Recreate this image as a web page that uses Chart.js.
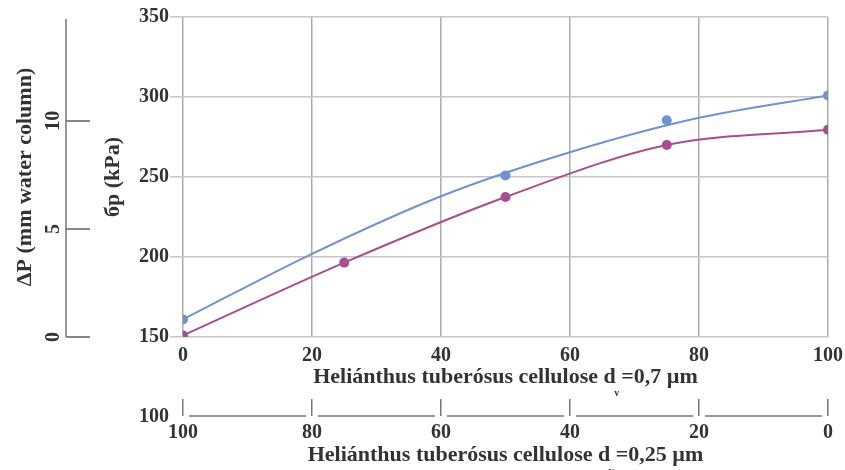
<!DOCTYPE html>
<html>
<head>
<meta charset="utf-8">
<script src="https://cdn.jsdelivr.net/npm/chart.js@4/dist/chart.umd.min.js"></script>
<style>
  body { margin: 0; background: #fff; }
</style>
</head>
<body>
<canvas id="js--chart" width="845" height="470"></canvas>
<script>
// measured strength, 0.7 µm cellulose share (%)
const shareA = [0, 50, 75, 100];
const strengthA = [161, 251, 285.5, 301];
// fitted trend for that series
const trendShare = [0, 20, 40, 60, 80, 100];
const trendA = [161, 202, 238, 265.5, 287, 301];
// second blend
const shareB = [0, 25, 50, 75, 100];
const strengthB = [151, 196.5, 237.5, 270, 279.5];

const blue = "#7092cf";
const purple = "#a74f8e";
const ink = "#333";

const titleFont = { family: "Liberation Serif", weight: "bold", size: 22, lineHeight: 1 };
const tickFont = { family: "Liberation Serif", weight: "bold", size: 20, lineHeight: 1 };

function points(xs, ys){
    return xs.map(function(v, i){ return { x: v, y: ys[i] }; });
}

// the end labels fit inside the layout padding already
function noSidePadding(scale){
    scale.paddingLeft = 0;
    scale.paddingRight = 0;
}

// axis line of the ΔP scale, the broken baseline of the lower x scale,
// the stray "100" of the σp scale and the small "v" under each title
const extras = {
    id: "extras",
    afterDraw(chart){
        const ctx = chart.ctx;
        const s = chart.scales;
        ctx.save();

        ctx.strokeStyle = "#777";
        ctx.lineWidth = 1.5;
        const lineX = s.y2.right - s.y2.options.grid.tickLength;
        ctx.beginPath();
        ctx.moveTo(lineX, s.y2.top + 2);
        ctx.lineTo(lineX, s.y2.bottom);
        ctx.stroke();

        const base = s.x2.top + s.x2.options.grid.tickLength;
        const px = s.x2.ticks.map(function(t){ return s.x2.getPixelForValue(t.value); })
            .sort(function(a, b){ return a - b; });
        ctx.beginPath();
        for (let i = 0; i < px.length - 1; i++){
            ctx.moveTo(px[i] + 6, base);
            ctx.lineTo(px[i + 1] - 6, base);
        }
        ctx.stroke();

        ctx.fillStyle = ink;
        ctx.font = "bold 20px 'Liberation Serif'";
        ctx.textAlign = "right";
        ctx.textBaseline = "middle";
        ctx.fillText("100", s.y.right - s.y.options.grid.tickLength - s.y.options.ticks.padding, s.y.getPixelForValue(100));

        [s.x, s.x2].forEach(function(sc){
            const t = sc.options.title;
            const full = t.text;
            const head = full.slice(0, full.indexOf(" ="));
            ctx.font = "bold 22px 'Liberation Serif'";
            const cx = (sc.left + sc.right) / 2;
            const start = cx - ctx.measureText(full).width / 2;
            const vx = start + ctx.measureText(head).width + 1;
            const ty = sc.bottom - t.padding.bottom - 11;
            ctx.font = "bold 10px 'Liberation Serif'";
            ctx.textAlign = "center";
            ctx.fillText("v", vx, ty + 16);
        });

        ctx.restore();
    }
};

const data = {
    datasets: [
        {
            data: points(shareA, strengthA),
            showLine: false,
            pointRadius: 5,
            pointBackgroundColor: blue,
            pointBorderWidth: 0
        },
        {
            data: points(trendShare, trendA),
            borderColor: blue,
            borderWidth: 2,
            pointRadius: 0,
            cubicInterpolationMode: "monotone"
        },
        {
            data: points(shareB, strengthB),
            borderColor: purple,
            borderWidth: 2,
            pointRadius: 5,
            pointBackgroundColor: purple,
            pointBorderWidth: 0,
            cubicInterpolationMode: "monotone"
        }
    ]
};

const config = {
    type: "line",
    data: data,
    options: {
        responsive: false,
        animation: false,
        events: [],
        layout: { autoPadding: false, padding: { top: 17, right: 17, left: 4, bottom: 0 } },
        plugins: { legend: { display: false }, tooltip: { enabled: false } },
        scales: {
            x: {
                type: "linear",
                position: "bottom",
                min: 0, max: 100,
                afterFit: noSidePadding,
                border: { display: false },
                grid: { color: "#acacac", lineWidth: 1.5, drawTicks: false },
                ticks: { stepSize: 20, padding: 9, color: ink, font: tickFont, maxRotation: 0 },
                title: {
                    display: true,
                    text: "Heliánthus tuberósus cellulose d =0,7 µm",
                    color: ink, font: titleFont,
                    padding: { top: -9, bottom: 11 }
                }
            },
            x2: {
                type: "linear",
                position: "bottom",
                reverse: true,
                min: 0, max: 100,
                afterFit: noSidePadding,
                border: { display: false },
                grid: { drawOnChartArea: false, tickLength: 17, color: "#777", lineWidth: 1.5 },
                ticks: { stepSize: 20, padding: 7, color: ink, font: tickFont, maxRotation: 0 },
                title: {
                    display: true,
                    text: "Heliánthus tuberósus cellulose d =0,25 µm",
                    color: ink, font: titleFont,
                    padding: { top: -6, bottom: 4 }
                }
            },
            y: {
                position: "left",
                min: 150, max: 350,
                weight: 0,
                border: { display: false },
                grid: { color: "#c6c6c6", lineWidth: 1.5, tickLength: 13 },
                ticks: { stepSize: 50, padding: 1, color: ink, font: tickFont },
                title: {
                    display: true,
                    text: "бp (kPa)",
                    color: ink, font: titleFont,
                    padding: { top: 12, bottom: 14 }
                }
            },
            y2: {
                position: "left",
                min: 0, max: 14.8,
                weight: 1,
                border: { display: false },
                grid: { drawOnChartArea: false, tickLength: 24, color: "#888", lineWidth: 2 },
                ticks: {
                    stepSize: 5, includeBounds: false, padding: 2,
                    minRotation: 90, maxRotation: 90, crossAlign: "center",
                    color: ink, font: tickFont
                },
                title: {
                    display: true,
                    text: "ΔP (mm water column)",
                    color: ink, font: titleFont,
                    padding: { top: 10, bottom: 6 }
                }
            }
        }
    },
    plugins: [extras]
};

const chart = new Chart(document.getElementById("js--chart"), config);
</script>
</body>
</html>
